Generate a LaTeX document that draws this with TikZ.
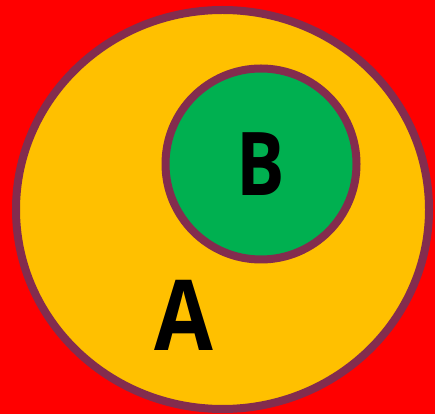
\documentclass[tikz,border=0pt]{standalone}
\usepackage{fontspec}
\setmainfont{Open Sans}
\usepackage{tikz}
\usetikzlibrary{shapes.geometric,positioning}
\definecolor{setborder}{RGB}{131,44,78}
\definecolor{setyellow}{RGB}{255,192,0}
\definecolor{setgreen}{RGB}{0,176,80}
\tikzset{every node/.style={font=\bfseries}}

\begin{document}
\begin{tikzpicture}[
    x=1pt, y=1pt,
    setshape/.style={draw=setborder, line width=8pt, inner sep=0pt},
    setlabel/.style={inner sep=0pt, text=black, transform shape}
]

\fill[red] (0,0) rectangle (435,414);
\useasboundingbox (0,0) rectangle (435,414);

\node (setA) [setshape, ellipse, fill=setyellow, minimum width=413pt, minimum height=399pt] at (222.5,204.5) {};

\node (setB) [setshape, circle, fill=setgreen, minimum size=191pt] at (261,250) {};

\node (labelA) [setlabel, xscale=0.87, font=\bfseries\fontsize{98}{98}\selectfont] at (183.5,99) {A};
\node (labelB) [setlabel, xscale=0.82, font=\bfseries\fontsize{88}{88}\selectfont] at (setB.center) {B};

\end{tikzpicture}
\end{document}
